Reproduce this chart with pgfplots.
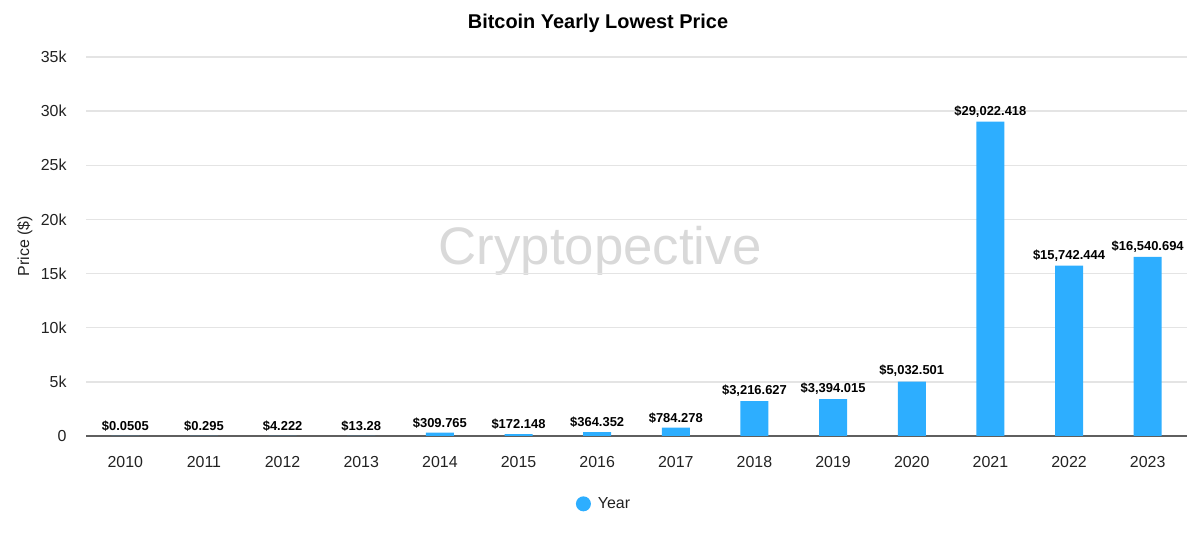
\documentclass[border=0pt]{standalone}
\usepackage{fontspec}
\setmainfont{Liberation Sans}
\usepackage{pgfplots}
\pgfplotsset{compat=1.18}
\definecolor{barblue}{RGB}{45,174,255}
\definecolor{gridgray}{RGB}{228,228,228}
\definecolor{axisgray}{RGB}{95,95,95}
\definecolor{txt}{RGB}{34,34,34}
\definecolor{wm}{RGB}{217,217,217}
\begin{document}
\begin{tikzpicture}
\path[use as bounding box] (0,0) rectangle (1200bp,540bp);
\node[font=\fontsize{53}{60}\selectfont, text=wm, anchor=base, inner sep=0pt] at (600bp,275bp) {Cryptopective};
\begin{axis}[
  at={(86bp,104bp)}, anchor=south west,
  scale only axis, width=1101bp, height=379bp,
  xmin=-0.5, xmax=13.5, ymin=0, ymax=35000,
  scaled y ticks=false,
  axis x line*=bottom, axis y line*=left,
  x axis line style={draw=axisgray, line width=1.5bp, -},
  y axis line style={draw=none},
  major tick length=0,
  xtick={0,...,13},
  xticklabels={2010,2011,2012,2013,2014,2015,2016,2017,2018,2019,2020,2021,2022,2023},
  ytick={0,5000,10000,15000,20000,25000,30000,35000},
  yticklabels={0,5k,10k,15k,20k,25k,30k,35k},
  /pgf/number format/assume math mode=true,
  ticklabel style={font=\fontsize{16}{18}\selectfont, text=txt},
  xticklabel style={yshift=-17bp},
  yticklabel style={xshift=-16bp},
  ymajorgrids, grid style={draw=gridgray, line width=1.3bp},
  ylabel={Price (\$)},
  every axis y label/.style={at={(axis description cs:-0.0554,0.501)}, rotate=90, anchor=center, font=\fontsize{16}{18}\selectfont, text=txt},
  point meta=explicit symbolic,
  nodes near coords,
  every node near coord/.style={font=\bfseries\fontsize{13}{15}\selectfont, text=black, anchor=south, yshift=1bp},
  clip=false,
  legend style={at={(0.4705,-0.179)}, anchor=center, draw=none, fill=none, column sep=5bp, font=\fontsize{16}{18}\selectfont, text=txt},
  legend image code/.code={\fill[barblue] (0bp,0bp) circle (7.5bp);},
]
\addplot[ybar, bar width=28bp, fill=barblue, draw=none] coordinates {
(0,0.0505) [\$0.0505]
(1,0.295) [\$0.295]
(2,4.222) [\$4.222]
(3,13.28) [\$13.28]
(4,309.765) [\$309.765]
(5,172.148) [\$172.148]
(6,364.352) [\$364.352]
(7,784.278) [\$784.278]
(8,3216.627) [\$3,216.627]
(9,3394.015) [\$3,394.015]
(10,5032.501) [\$5,032.501]
(11,29022.418) [\$29,022.418]
(12,15742.444) [\$15,742.444]
(13,16540.694) [\$16,540.694]
};
\addlegendentry{Year}
\end{axis}
\node[font=\bfseries\fontsize{20}{24}\selectfont, text=black] at (598bp,517bp) {Bitcoin Yearly Lowest Price};
\end{tikzpicture}
\end{document}
